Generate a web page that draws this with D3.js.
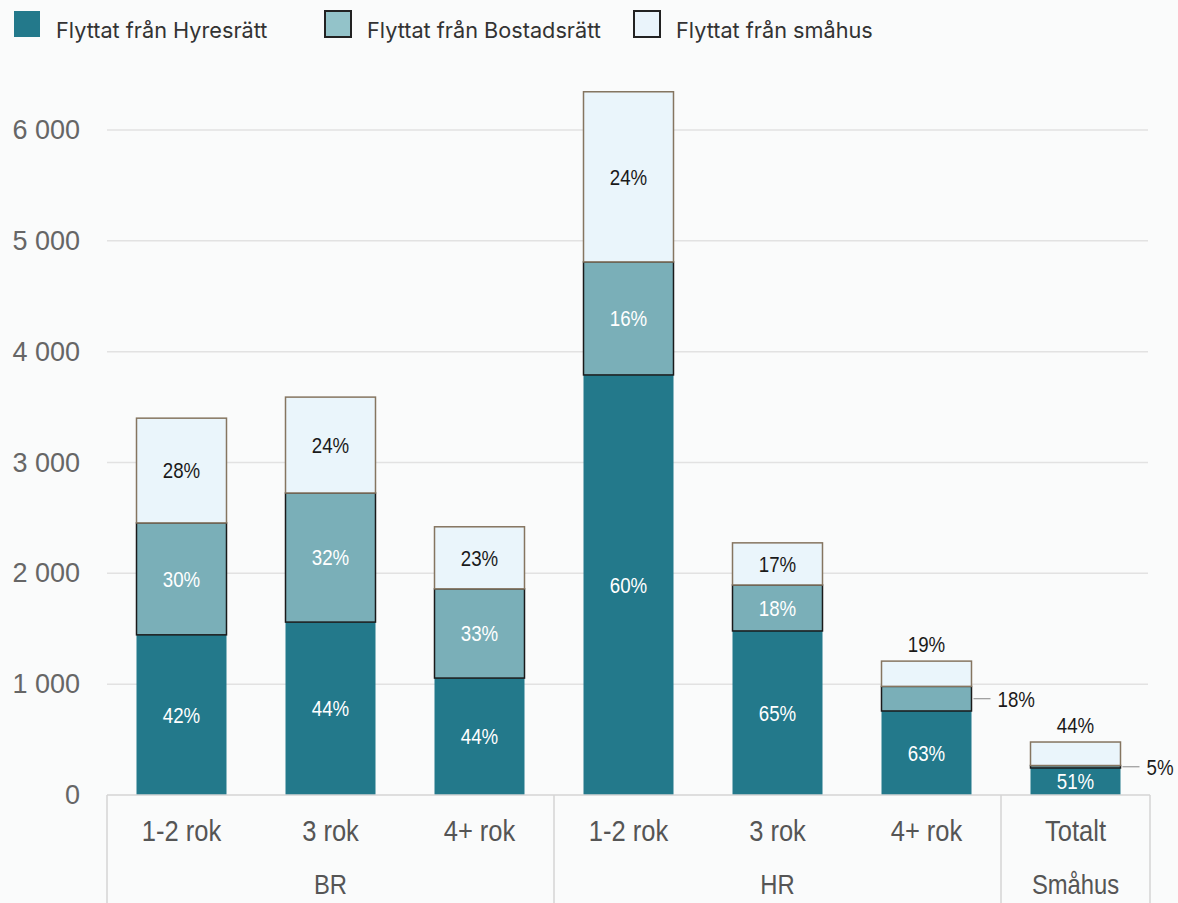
<!DOCTYPE html>
<html>
<head>
<meta charset="utf-8">
<script src="https://cdn.jsdelivr.net/npm/d3@7"></script>
<style>
  html, body { margin: 0; padding: 0; background: #fafbfb; }
  svg { display: block; }
</style>
</head>
<body>
<svg id="chart" width="1178" height="903"></svg>
<script>
// ---------- data ----------
const categories = ["1-2 rok", "3 rok", "4+ rok", "1-2 rok", "3 rok", "4+ rok", "Totalt"];
const groups = ["BR", "BR", "BR", "HR", "HR", "HR", "Småhus"];
const seriesNames = ["Flyttat från Hyresrätt", "Flyttat från Bostadsrätt", "Flyttat från småhus"];
const hyresratt   = [1445, 1560, 1055, 3790, 1480, 758, 244];
const bostadsratt = [1010, 1165,  805, 1020,  415, 222,  22];
const smahus      = [ 945,  865,  560, 1535,  380, 228, 212];
const pctHyres    = ["42%", "44%", "44%", "60%", "65%", "63%", "51%"];
const pctBostad   = ["30%", "32%", "33%", "16%", "18%", "18%", "5%"];
const pctSmahus   = ["28%", "24%", "23%", "24%", "17%", "19%", "44%"];
const yTicks      = [0, 1000, 2000, 3000, 4000, 5000, 6000];
const yTickLabels = ["0", "1 000", "2 000", "3 000", "4 000", "5 000", "6 000"];

(function draw() {
  const colors = ["#23798b", "#7aafb8", "#eaf5fb"];
  const legendColors = ["#23798b", "#93c3c9", "#eaf4fb"];
  const strokes = ["none", "#1a1a1a", "#857560"];
  const sans = "'Liberation Sans', Arial, sans-serif";
  const squeeze = 0.85;

  const svg = d3.select("#chart");
  const mLeft = 107, mRight = 1150, mTop = 130, mBottom = 795;

  const x = d3.scaleBand().domain(d3.range(categories.length))
    .range([mLeft, mRight]).paddingInner(0.396).paddingOuter(0.198);
  const y = d3.scaleLinear().domain([0, 6000]).range([mBottom, mTop]);

  // narrow text helper
  function ntext(parent, tx, ty, str, size, fill, anchor, sq) {
    return parent.append("text")
      .attr("transform", `translate(${tx},${ty}) scale(${sq || squeeze},1)`)
      .attr("dy", "0.36em").attr("text-anchor", anchor || "middle")
      .attr("font-family", sans).attr("font-size", size).attr("fill", fill).text(str);
  }

  // gridlines
  svg.append("g").selectAll("line").data(yTicks.filter(d => d > 0)).join("line")
    .attr("x1", mLeft).attr("x2", mRight - 2)
    .attr("y1", d => y(d)).attr("y2", d => y(d))
    .attr("stroke", "#e2e2e2").attr("stroke-width", 1.5);

  // y axis
  const yAxis = d3.axisLeft(y).tickValues(yTicks).tickSize(0).tickPadding(27)
    .tickFormat((d, i) => yTickLabels[i]);
  const gy = svg.append("g").attr("transform", `translate(${mLeft},0)`).call(yAxis);
  gy.select(".domain").remove();
  gy.selectAll("text").attr("font-family", sans)
    .attr("font-size", 27).attr("fill", "#666");

  // stacked data
  const keys = ["h", "b", "s"];
  const rows = categories.map((c, i) => ({ i, h: hyresratt[i], b: bostadsratt[i], s: smahus[i] }));
  const stack = d3.stack().keys(keys)(rows);

  const bw = x.bandwidth();
  stack.forEach((layer, k) => {
    svg.append("g").selectAll("rect").data(layer).join("rect")
      .attr("x", d => x(d.data.i))
      .attr("width", bw)
      .attr("y", d => y(d[1]))
      .attr("height", d => y(d[0]) - y(d[1]))
      .attr("fill", colors[k])
      .attr("stroke", strokes[k])
      .attr("stroke-width", k === 0 ? 0 : 1.5);
  });

  // labels
  const pcts = [pctHyres, pctBostad, pctSmahus];
  const labelG = svg.append("g");
  stack.forEach((layer, k) => {
    layer.forEach((d, i) => {
      const cx = x(i) + bw / 2;
      const hpx = y(d[0]) - y(d[1]);
      let tx = cx, ty = (y(d[0]) + y(d[1])) / 2, anchor = "middle";
      let fill = k === 2 ? "#1a1a1a" : "#ffffff";
      if (hpx < 30 && k === 2) {
        ty = y(d[1]) - 17; fill = "#1a1a1a";
      } else if (hpx < 30 && k === 1) {
        tx = x(i) + bw + 26; anchor = "start"; fill = "#1a1a1a";
        labelG.append("line").attr("x1", x(i) + bw + 2).attr("x2", x(i) + bw + 19)
          .attr("y1", ty).attr("y2", ty).attr("stroke", "#999").attr("stroke-width", 1.2);
      }
      ntext(labelG, tx, ty, pcts[k][i], 22, fill, anchor);
    });
  });

  // bottom frame with category & group labels
  const frame = svg.append("g").attr("stroke", "#d4d4d4").attr("stroke-width", 1.5);
  frame.append("line").attr("x1", mLeft).attr("x2", mRight).attr("y1", mBottom).attr("y2", mBottom);
  const groupNames = [...new Set(groups)];
  const boundaries = [mLeft];
  groupNames.forEach(g => {
    const idx = groups.map((gg, i) => gg === g ? i : -1).filter(i => i >= 0);
    const last = idx[idx.length - 1];
    boundaries.push(last === categories.length - 1 ? mRight : x(last) + bw / 2 + x.step() / 2);
  });
  boundaries.forEach(bx => frame.append("line").attr("x1", bx).attr("x2", bx)
    .attr("y1", mBottom).attr("y2", 903));

  const catG = svg.append("g");
  categories.forEach((c, i) => ntext(catG, x(i) + bw / 2, 830, c, 30, "#555", "middle"));

  groupNames.forEach((g, gi) => {
    const cx = (boundaries[gi] + boundaries[gi + 1]) / 2;
    ntext(svg, cx, 884, g, 28, "#555", "middle");
  });

  // legend
  const legendX = [14, 325, 634];
  const lg = svg.append("g");
  seriesNames.forEach((n, k) => {
    lg.append("rect").attr("x", legendX[k]).attr("y", 11).attr("width", 26).attr("height", 26)
      .attr("fill", legendColors[k]).attr("stroke", k === 0 ? "none" : "#222")
      .attr("stroke-width", k === 0 ? 0 : 2);
    lg.append("text").attr("x", legendX[k] + 42).attr("y", 38)
      .attr("font-family", "Inter, Roboto, sans-serif").attr("font-size", 21.7)
      .attr("fill", "#333").text(n);
  });
})();
</script>
</body>
</html>
